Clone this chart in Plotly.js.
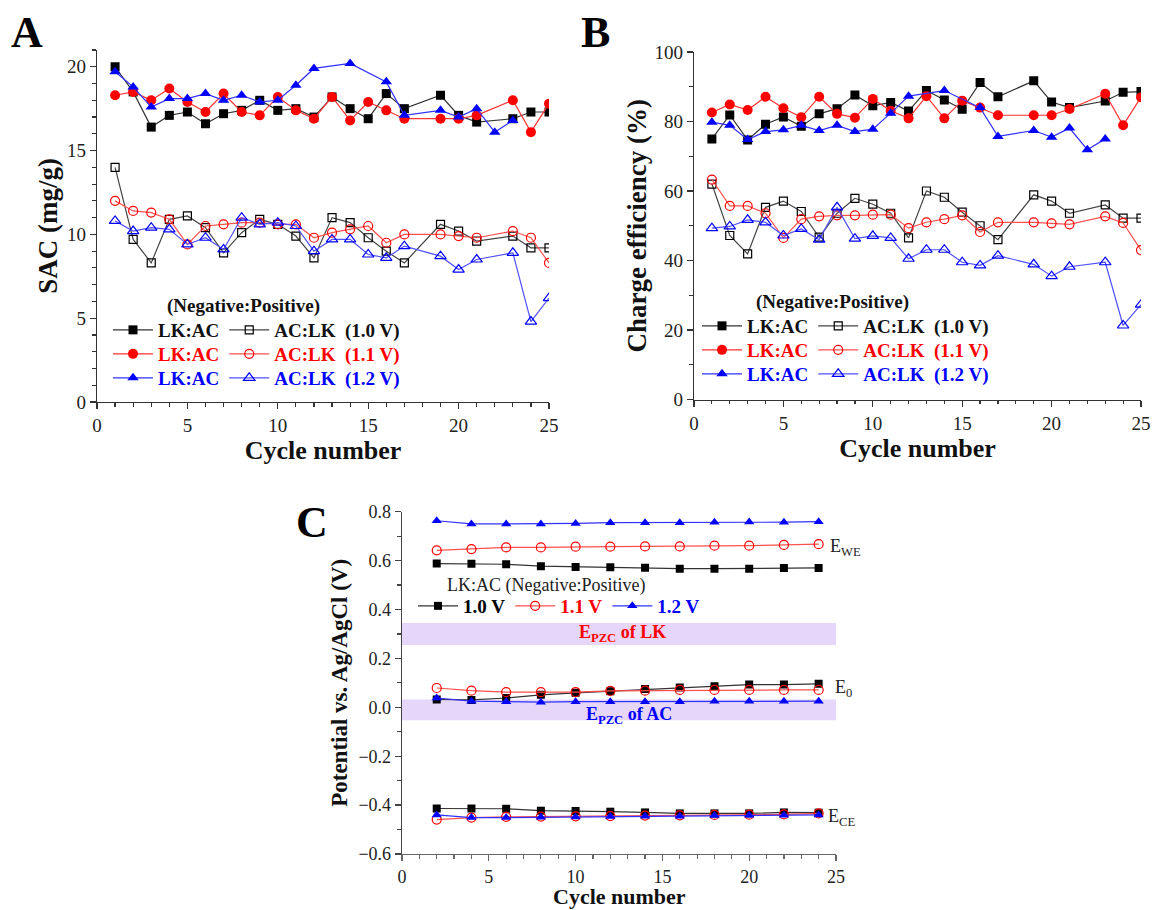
<!DOCTYPE html>
<html>
<head>
<meta charset="utf-8">
<script src="https://cdn.plot.ly/plotly-3.0.1.min.js"></script>
<style>html,body{margin:0;padding:0;background:#fff;}#chart{width:1152px;height:910px;}
#chart .legendtext{font-family:"Liberation Serif","Times New Roman",Times,serif !important;}</style>
</head>
<body>
<div id="chart"></div>
<script>
// ---------- DATA ----------
const cycles = [1,2,3,4,5,6,7,8,9,10,11,12,13,14,15,16,17,19,20,21,23,24,25];
const cyclesLK12 = [1,2,3,4,5,6,7,8,9,10,11,12,14,16,17,19,20,21,22,23];

// Panel A: SAC (mg/g)
const sacLK10 = [20.0,18.5,16.4,17.1,17.3,16.6,17.2,17.4,18.0,17.4,17.5,17.0,18.2,17.5,16.9,18.4,17.5,18.3,17.1,16.7,16.9,17.3,17.3];
const sacAC10 = [14.0,9.7,8.3,10.9,11.1,10.4,8.9,10.1,10.9,10.6,9.9,8.6,11.0,10.7,9.8,9.0,8.3,10.6,10.2,9.6,9.9,9.2,9.2];
const sacLK11 = [18.3,18.5,18.0,18.7,17.9,17.3,18.4,17.3,17.1,18.2,17.4,16.9,18.2,16.8,17.9,17.4,16.9,16.9,16.9,17.1,18.0,16.1,17.8];
const sacAC11 = [12.0,11.4,11.3,10.9,9.4,10.5,10.6,10.7,10.7,10.6,10.6,9.8,10.1,10.3,10.5,9.5,10.0,10.0,9.9,9.8,10.2,9.8,8.3];
const sacLK12 = [19.7,18.8,17.6,18.1,18.1,18.4,18.0,18.3,17.9,18.0,18.9,19.9,20.2,19.1,17.1,17.4,17.0,17.5,16.1,16.8];
const sacAC12 = [10.8,10.2,10.4,10.3,9.4,9.8,9.1,11.0,10.6,10.7,10.5,9.0,9.7,9.7,8.8,8.6,9.3,8.7,7.9,8.5,8.9,4.8,6.2];

// Panel B: Charge efficiency (%)
const ceLK10 = [75.0,81.9,74.7,79.2,81.3,78.6,82.2,83.7,87.6,84.5,85.5,83.0,88.9,86.2,83.5,91.2,87.1,91.7,85.6,84.0,85.9,88.4,88.6];
const ceAC10 = [62.0,47.2,41.9,55.3,57.1,54.1,46.7,53.6,57.9,56.2,53.6,46.5,60.0,58.2,53.9,50.0,46.0,58.9,57.1,53.6,56.0,52.2,52.2];
const ceLK11 = [82.6,84.9,83.3,87.1,83.8,81.2,87.1,82.2,81.1,86.5,83.1,80.9,87.3,80.9,86.0,84.0,81.8,81.8,81.8,83.6,88.0,78.9,87.0];
const ceAC11 = [63.3,55.7,55.7,53.6,46.5,51.9,52.7,53.0,53.0,53.2,53.2,49.3,51.0,51.9,53.0,48.2,51.0,51.0,50.7,50.4,52.7,50.8,43.0];
const ceLK12 = [79.8,78.9,74.8,77.1,77.6,78.9,77.4,78.9,77.1,77.8,82.4,87.3,88.9,84.0,75.7,77.4,75.5,78.1,71.9,75.0];
const ceAC12 = [49.3,49.8,51.7,51.0,47.2,49.1,46.0,55.3,46.3,47.1,46.5,40.5,43.1,43.1,39.5,38.6,41.4,38.9,35.5,38.2,39.5,21.3,27.3];

// Panel C: Potential vs. Ag/AgCl (V)
const cyclesC = [2,4,6,8,10,12,14,16,18,20,22,24];
const eWE10 = [0.588,0.587,0.585,0.577,0.574,0.573,0.571,0.567,0.567,0.567,0.570,0.570];
const eWE11 = [0.642,0.647,0.654,0.654,0.657,0.657,0.658,0.658,0.661,0.661,0.664,0.667];
const eWE12 = [0.763,0.750,0.750,0.750,0.752,0.755,0.755,0.755,0.757,0.758,0.757,0.759];
const e0_10 = [0.032,0.030,0.038,0.051,0.059,0.066,0.075,0.081,0.086,0.093,0.093,0.096];
const e0_11 = [0.079,0.068,0.062,0.062,0.062,0.067,0.068,0.071,0.071,0.071,0.071,0.071];
const e0_12 = [0.038,0.025,0.023,0.021,0.023,0.023,0.023,0.023,0.025,0.025,0.025,0.025];
const eCE10 = [-0.414,-0.414,-0.415,-0.423,-0.424,-0.427,-0.430,-0.434,-0.434,-0.434,-0.430,-0.431];
const eCE11 = [-0.459,-0.451,-0.448,-0.447,-0.446,-0.445,-0.443,-0.442,-0.440,-0.439,-0.438,-0.434];
const eCE12 = [-0.440,-0.451,-0.451,-0.450,-0.449,-0.447,-0.446,-0.446,-0.443,-0.442,-0.442,-0.440];
const pzcLK = [0.255, 0.345];
const pzcAC = [-0.053, 0.032];

const voltLabels = ['1.0 V','1.1 V','1.2 V'];

// ---------- STYLE ----------
const W = 1152, H = 910;
const FF = '"Liberation Serif", "Times New Roman", Times, "DejaVu Serif", serif';
const SPANF = 'font-family:Liberation Serif,Times New Roman,serif';
const COL = {k:'#000000', r:'#FF0000', b:'#0000FF'};
const LCOL = {k:'#333333', r:'#FF3030', b:'#3030FF'};
const LCOL2 = {k:'#444444', r:'#FF5050', b:'#5050FF'};

function tr(x, y, xa, ya, name, legend, c, symbol, size, open, showlegend, group) {
  return {
    x: x, y: y, xaxis: xa, yaxis: ya, type: 'scatter', mode: 'lines+markers',
    name: name, legend: legend, showlegend: showlegend !== false, legendgroup: group,
    line: {color: open ? LCOL2[c] : LCOL[c], width: 1.2},
    marker: {symbol: symbol, size: size, color: COL[c], line: {color: COL[c], width: open ? 1.2 : 0}},
    hoverinfo: 'x+y'
  };
}
function lname(text, color) {
  return '<span style="' + SPANF + (color ? ';color:' + color : '') + '"><b>' + text + '</b></span>';
}

const sp = '\u00a0\u00a0';
const traces = [
  tr(cycles, sacLK10, 'x', 'y', lname('LK:AC'), 'legend', 'k', 'square', 9, false),
  tr(cycles, sacAC10, 'x', 'y', lname('AC:LK' + sp + '(' + voltLabels[0] + ')'), 'legend', 'k', 'square-open', 8, true),
  tr(cycles, sacLK11, 'x', 'y', lname('LK:AC'), 'legend2', 'r', 'circle', 10, false),
  tr(cycles, sacAC11, 'x', 'y', lname('AC:LK' + sp + '(' + voltLabels[1] + ')'), 'legend2', 'r', 'circle-open', 9, true),
  tr(cyclesLK12, sacLK12, 'x', 'y', lname('LK:AC'), 'legend3', 'b', 'triangle-up', 10, false),
  tr(cycles, sacAC12, 'x', 'y', lname('AC:LK' + sp + '(' + voltLabels[2] + ')'), 'legend3', 'b', 'triangle-up-open', 10, true),

  tr(cycles, ceLK10, 'x2', 'y2', lname('LK:AC'), 'legend4', 'k', 'square', 9, false),
  tr(cycles, ceAC10, 'x2', 'y2', lname('AC:LK' + sp + '(' + voltLabels[0] + ')'), 'legend4', 'k', 'square-open', 8, true),
  tr(cycles, ceLK11, 'x2', 'y2', lname('LK:AC'), 'legend5', 'r', 'circle', 10, false),
  tr(cycles, ceAC11, 'x2', 'y2', lname('AC:LK' + sp + '(' + voltLabels[1] + ')'), 'legend5', 'r', 'circle-open', 9, true),
  tr(cyclesLK12, ceLK12, 'x2', 'y2', lname('LK:AC'), 'legend6', 'b', 'triangle-up', 10, false),
  tr(cycles, ceAC12, 'x2', 'y2', lname('AC:LK' + sp + '(' + voltLabels[2] + ')'), 'legend6', 'b', 'triangle-up-open', 10, true),

  tr(cyclesC, eWE10, 'x3', 'y3', lname(voltLabels[0], '#000000'), 'legend7', 'k', 'square', 8, false, true, 'c10'),
  tr(cyclesC, eWE11, 'x3', 'y3', lname(voltLabels[1], '#FF0000'), 'legend7', 'r', 'circle-open', 9, true, true, 'c11'),
  tr(cyclesC, eWE12, 'x3', 'y3', lname(voltLabels[2], '#0000FF'), 'legend7', 'b', 'triangle-up', 9, false, true, 'c12'),
  tr(cyclesC, e0_10, 'x3', 'y3', '1.0 V E0', 'legend7', 'k', 'square', 8, false, false, 'c10'),
  tr(cyclesC, e0_11, 'x3', 'y3', '1.1 V E0', 'legend7', 'r', 'circle-open', 9, true, false, 'c11'),
  tr(cyclesC, e0_12, 'x3', 'y3', '1.2 V E0', 'legend7', 'b', 'triangle-up', 9, false, false, 'c12'),
  tr(cyclesC, eCE10, 'x3', 'y3', '1.0 V ECE', 'legend7', 'k', 'square', 8, false, false, 'c10'),
  tr(cyclesC, eCE11, 'x3', 'y3', '1.1 V ECE', 'legend7', 'r', 'circle-open', 9, true, false, 'c11'),
  tr(cyclesC, eCE12, 'x3', 'y3', '1.2 V ECE', 'legend7', 'b', 'triangle-up', 9, false, false, 'c12')
];

function xd(a, b) { return [a / W, b / W]; }
function yd(bottomPx, topPx) { return [1 - bottomPx / H, 1 - topPx / H]; }

function axis(common) {
  return Object.assign({
    showgrid: false, zeroline: false, showline: true, linecolor: '#333', linewidth: 1.3,
    ticks: 'outside', ticklen: 6, tickwidth: 1.2, tickcolor: '#333', mirror: false,
    tickfont: {family: FF, size: 19, color: '#222'}, fixedrange: true
  }, common);
}
function titleObj(text, size, standoff) {
  return {text: '<b>' + text + '</b>', font: {family: FF, size: size, color: '#111'}, standoff: standoff};
}

function leg(xpx, ypx, color, size) {
  return {x: xpx / W, y: 1 - ypx / H, xanchor: 'left', yanchor: 'middle', orientation: 'h',
    bgcolor: 'rgba(0,0,0,0)', borderwidth: 0, font: {family: FF, size: size || 19, color: color},
    itemwidth: 40, tracegroupgap: 0, traceorder: 'normal', itemclick: false, itemdoubleclick: false};
}

function note(text, xpx, ypx, size, color) {
  return {text: text, xref: 'paper', yref: 'paper', x: xpx / W, y: 1 - ypx / H,
    xanchor: 'center', yanchor: 'middle', showarrow: false,
    font: {family: FF, size: size, color: color}};
}
function dnote(text, x, y, size, color, xanchor) {
  return {text: text, xref: 'x3', yref: 'y3', x: x, y: y, xanchor: xanchor || 'center', yanchor: 'middle',
    showarrow: false, font: {family: FF, size: size, color: color}};
}

const layout = {
  width: W, height: H, margin: {l: 0, r: 0, t: 0, b: 0},
  paper_bgcolor: '#fff', plot_bgcolor: 'rgba(0,0,0,0)', showlegend: true,
  font: {family: FF, color: '#222'},
  xaxis: axis({domain: xd(97, 549), range: [0, 25], anchor: 'y', tickvals: [0,5,10,15,20,25],
    minor: {dtick: 1, ticks: 'outside', ticklen: 3.5, tickcolor: '#333', showgrid: false},
    title: titleObj('Cycle number', 26, 2)}),
  yaxis: axis({domain: yd(402, 50), range: [0, 21], anchor: 'x', tickvals: [0,5,10,15,20],
    minor: {dtick: 1, ticks: 'outside', ticklen: 3.5, tickcolor: '#333', showgrid: false},
    title: titleObj('SAC (mg/g)', 27, 1)}),
  xaxis2: axis({domain: xd(694, 1141), range: [0, 25], anchor: 'y2', tickvals: [0,5,10,15,20,25],
    minor: {dtick: 1, ticks: 'outside', ticklen: 3.5, tickcolor: '#333', showgrid: false},
    title: titleObj('Cycle number', 26, 3)}),
  yaxis2: axis({domain: yd(399.5, 52), range: [0, 100], anchor: 'x2', tickvals: [0,20,40,60,80,100],
    minor: {dtick: 10, ticks: 'outside', ticklen: 3.5, tickcolor: '#333', showgrid: false},
    title: titleObj('Charge efficiency (%)', 27, 0)}),
  xaxis3: axis({domain: xd(402, 836), range: [0, 25], anchor: 'y3', tickvals: [0,5,10,15,20,25],
    linecolor: '#666', tickcolor: '#666', tickfont: {family: FF, size: 18, color: '#222'},
    minor: {dtick: 1, ticks: 'outside', ticklen: 3.5, tickcolor: '#666', showgrid: false}}),
  yaxis3: axis({domain: yd(854, 511.7), range: [-0.6, 0.8], anchor: 'x3', tickvals: [-0.6,-0.4,-0.2,0,0.2,0.4,0.6,0.8],
    tickformat: '.1f', linecolor: '#444', tickcolor: '#444', tickfont: {family: FF, size: 18, color: '#222'},
    minor: {dtick: 0.1, ticks: 'outside', ticklen: 3.5, tickcolor: '#444', showgrid: false},
    title: titleObj('Potential vs. Ag/AgCl (V)', 23, 4)}),

  legend: leg(108, 330, '#111'),
  legend2: leg(108, 354, '#FF0000'),
  legend3: leg(108, 378, '#0000FF'),
  legend4: leg(697, 326, '#111'),
  legend5: leg(697, 350, '#FF0000'),
  legend6: leg(697, 374, '#0000FF'),
  legend7: leg(413, 606, '#111', 19),

  shapes: [
    {type: 'rect', xref: 'x3', yref: 'y3', x0: 0, x1: 25, y0: pzcLK[0], y1: pzcLK[1],
      fillcolor: '#E6D6FA', line: {width: 0}, layer: 'below'},
    {type: 'rect', xref: 'x3', yref: 'y3', x0: 0, x1: 25, y0: pzcAC[0], y1: pzcAC[1],
      fillcolor: '#E6D6FA', line: {width: 0}, layer: 'below'}
  ],
  annotations: [
    note('<b>A</b>', 27, 33, 44, '#000'),
    note('<b>B</b>', 595, 33, 44, '#000'),
    note('<b>C</b>', 312, 522, 44, '#000'),
    note('<b>Cycle number</b>', 619, 896, 22, '#111'),
    note('<b>(Negative:Positive)</b>', 243, 306, 19, '#111'),
    note('<b>(Negative:Positive)</b>', 832, 302, 19, '#111'),
    note('LK:AC (Negative:Positive)', 546, 585, 18, '#222'),
    dnote('E<sub>WE</sub>', 24.55, 0.655, 18, '#222', 'left'),
    dnote('E<sub>0</sub>', 24.85, 0.078, 18, '#222', 'left'),
    dnote('E<sub>CE</sub>', 24.4, -0.45, 18, '#222', 'left'),
    dnote('<b>E<sub>PZC</sub> of LK</b>', 12.7, 0.30, 18, '#FF0000'),
    dnote('<b>E<sub>PZC</sub> of AC</b>', 13.1, -0.033, 18, '#0000FF')
  ]
};

Plotly.newPlot('chart', traces, layout, {staticPlot: true, displayModeBar: false});
</script>
</body>
</html>
